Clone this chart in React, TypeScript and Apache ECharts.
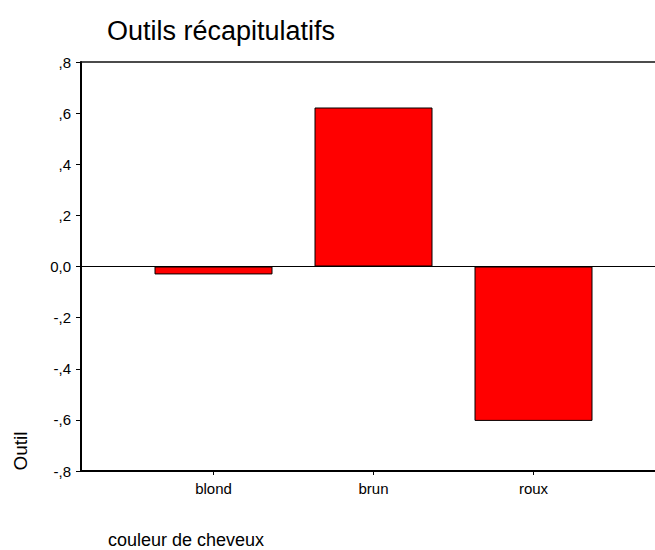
import React, { useEffect, useRef } from "react";
import * as echarts from "echarts";

const categories = ["blond", "brun", "roux"];
const values = [-0.031, 0.622, -0.604];
const yTicks = [-0.8, -0.6, -0.4, -0.2, 0, 0.2, 0.4, 0.6, 0.8];
const titleText = "Outils récapitulatifs";
const yName = "Outil";
const xName = "couleur de cheveux";

const FONT = "'Liberation Sans', Arial, sans-serif";

function fmt(v: number): string {
  const r = Math.round(v * 10) / 10;
  if (r === 0) return "0,0";
  const s = Math.abs(r).toFixed(1).replace(".", ",").replace(/^0/, "");
  return (r < 0 ? "-" : "") + s;
}

export default function App() {
  const ref = useRef<HTMLDivElement>(null);
  useEffect(() => {
    if (!ref.current) return;
    const chart = echarts.init(ref.current, null, { renderer: "svg" });
    const top = 62;
    const bottom = 79;
    chart.setOption({
      animation: false,
      title: {
        text: titleText,
        left: 102,
        top: 12,
        padding: 5,
        textStyle: { fontFamily: FONT, fontSize: 27, fontWeight: "normal", color: "#000" },
      },
      grid: [
        { left: 81, right: 0, top, bottom },
        { left: 133.5, width: 480, top, bottom },
      ],
      xAxis: [
        {
          gridIndex: 0,
          type: "value",
          min: 0,
          max: 1,
          position: "bottom",
          axisLine: { show: true, onZero: false, lineStyle: { color: "#000", width: 2 } },
          axisTick: { show: false },
          axisLabel: { show: false },
          splitLine: { show: false },
        },
        {
          gridIndex: 0,
          type: "value",
          min: 0,
          max: 1,
          position: "top",
          axisLine: { show: true, onZero: false, lineStyle: { color: "#111", width: 1.5 } },
          axisTick: { show: false },
          axisLabel: { show: false },
          splitLine: { show: false },
        },
        {
          gridIndex: 1,
          type: "category",
          data: categories,
          position: "bottom",
          axisLine: { show: false, onZero: false },
          axisTick: { show: true, alignWithLabel: true, length: 4, lineStyle: { color: "#000" } },
          axisLabel: { fontFamily: FONT, fontSize: 15, color: "#000", margin: 10 },
          splitLine: { show: false },
        },
      ],
      yAxis: [
        {
          gridIndex: 0,
          type: "value",
          min: -0.8,
          max: 0.8,
          interval: 0.2,
          axisLine: { show: true, onZero: false, lineStyle: { color: "#000", width: 2 } },
          axisTick: { show: true, length: 5, lineStyle: { color: "#000" } },
          axisLabel: {
            fontFamily: FONT,
            fontSize: 15,
            color: "#000",
            margin: 10,
            formatter: (v: number) => fmt(v),
          },
          splitLine: { show: false },
        },
        {
          gridIndex: 1,
          type: "value",
          min: -0.8,
          max: 0.8,
          interval: 0.2,
          show: false,
        },
      ],
      series: [
        {
          type: "scatter",
          xAxisIndex: 0,
          yAxisIndex: 0,
          data: [],
          silent: true,
          markLine: {
            silent: true,
            symbol: "none",
            label: { show: false },
            lineStyle: { color: "#000", width: 1, type: "solid" },
            data: [{ yAxis: 0 }],
          },
        },
        {
          type: "bar",
          xAxisIndex: 2,
          yAxisIndex: 1,
          data: values,
          barWidth: 118,
          itemStyle: { color: "#ff0000", borderColor: "#000", borderWidth: 1 },
        },
      ],
      graphic: [
        {
          type: "text",
          x: 20,
          y: 451,
          rotation: Math.PI / 2,
          style: {
            text: yName,
            font: `19px ${FONT}`,
            fill: "#000",
            textAlign: "center",
            textVerticalAlign: "middle",
          },
        },
        {
          type: "text",
          x: 108,
          y: 540,
          style: {
            text: xName,
            font: `18px ${FONT}`,
            fill: "#000",
            textAlign: "left",
            textVerticalAlign: "middle",
          },
        },
      ],
    });
    return () => chart.dispose();
  }, []);
  return (
    <div
      ref={ref}
      style={{ position: "fixed", left: 0, top: 0, width: 655, height: 550, background: "#fff" }}
    />
  );
}
